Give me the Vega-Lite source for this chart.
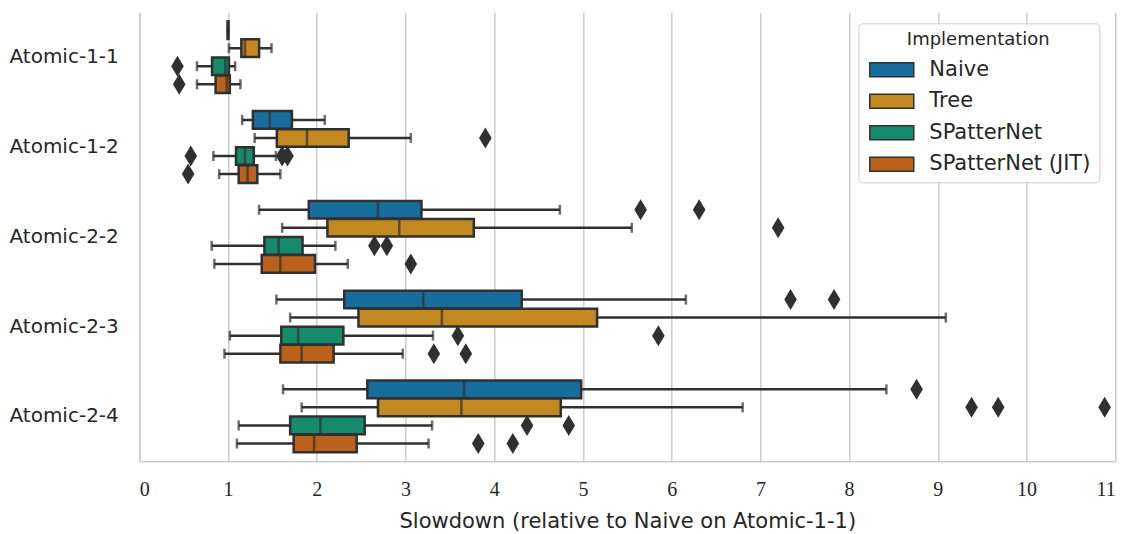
{
  "$schema": "https://vega.github.io/schema/vega-lite/v6.json",
  "width": 976,
  "height": 449,
  "autosize": {"type": "none"},
  "padding": {"left": 139.3, "top": 12.3, "right": 11.7, "bottom": 72.7},
  "background": "white",
  "config": {"view": {"stroke": null}, "font": "DejaVu Sans"},
  "datasets": {
    "boxes": [
      {"cat": "Atomic-1-1", "impl": "Naive", "lo": 1.0, "q1": 0.995, "med": 1.0, "q3": 1.005, "hi": 1.0},
      {"cat": "Atomic-1-1", "impl": "Tree", "lo": 1.01, "q1": 1.15, "med": 1.19, "q3": 1.35, "hi": 1.49},
      {"cat": "Atomic-1-1", "impl": "SPatterNet", "lo": 0.65, "q1": 0.82, "med": 0.97, "q3": 1.01, "hi": 1.08},
      {"cat": "Atomic-1-1", "impl": "SPatterNet (JIT)", "lo": 0.65, "q1": 0.86, "med": 0.985, "q3": 1.02, "hi": 1.14},
      {"cat": "Atomic-1-2", "impl": "Naive", "lo": 1.16, "q1": 1.28, "med": 1.47, "q3": 1.72, "hi": 2.09},
      {"cat": "Atomic-1-2", "impl": "Tree", "lo": 1.3, "q1": 1.55, "med": 1.89, "q3": 2.36, "hi": 3.06},
      {"cat": "Atomic-1-2", "impl": "SPatterNet", "lo": 0.835, "q1": 1.09, "med": 1.19, "q3": 1.29, "hi": 1.54},
      {"cat": "Atomic-1-2", "impl": "SPatterNet (JIT)", "lo": 0.9, "q1": 1.12, "med": 1.22, "q3": 1.33, "hi": 1.59},
      {"cat": "Atomic-2-2", "impl": "Naive", "lo": 1.35, "q1": 1.91, "med": 2.69, "q3": 3.18, "hi": 4.74},
      {"cat": "Atomic-2-2", "impl": "Tree", "lo": 1.61, "q1": 2.12, "med": 2.93, "q3": 3.77, "hi": 5.55},
      {"cat": "Atomic-2-2", "impl": "SPatterNet", "lo": 0.816, "q1": 1.41, "med": 1.57, "q3": 1.84, "hi": 2.21},
      {"cat": "Atomic-2-2", "impl": "SPatterNet (JIT)", "lo": 0.846, "q1": 1.38, "med": 1.59, "q3": 1.98, "hi": 2.35},
      {"cat": "Atomic-2-3", "impl": "Naive", "lo": 1.545, "q1": 2.31, "med": 3.2, "q3": 4.31, "hi": 6.16},
      {"cat": "Atomic-2-3", "impl": "Tree", "lo": 1.7, "q1": 2.47, "med": 3.41, "q3": 5.16, "hi": 9.09},
      {"cat": "Atomic-2-3", "impl": "SPatterNet", "lo": 1.02, "q1": 1.6, "med": 1.79, "q3": 2.3, "hi": 3.31},
      {"cat": "Atomic-2-3", "impl": "SPatterNet (JIT)", "lo": 0.96, "q1": 1.59, "med": 1.83, "q3": 2.19, "hi": 2.97},
      {"cat": "Atomic-2-4", "impl": "Naive", "lo": 1.62, "q1": 2.57, "med": 3.66, "q3": 4.98, "hi": 8.42},
      {"cat": "Atomic-2-4", "impl": "Tree", "lo": 1.83, "q1": 2.69, "med": 3.63, "q3": 4.75, "hi": 6.8},
      {"cat": "Atomic-2-4", "impl": "SPatterNet", "lo": 1.12, "q1": 1.7, "med": 2.04, "q3": 2.54, "hi": 3.3},
      {"cat": "Atomic-2-4", "impl": "SPatterNet (JIT)", "lo": 1.1, "q1": 1.74, "med": 1.97, "q3": 2.45, "hi": 3.26}
    ],
    "outliers": [
      {"cat": "Atomic-1-1", "impl": "SPatterNet", "value": 0.43},
      {"cat": "Atomic-1-1", "impl": "SPatterNet (JIT)", "value": 0.45},
      {"cat": "Atomic-1-2", "impl": "Tree", "value": 3.9},
      {"cat": "Atomic-1-2", "impl": "SPatterNet", "value": 0.58},
      {"cat": "Atomic-1-2", "impl": "SPatterNet", "value": 1.61},
      {"cat": "Atomic-1-2", "impl": "SPatterNet", "value": 1.67},
      {"cat": "Atomic-1-2", "impl": "SPatterNet (JIT)", "value": 0.55},
      {"cat": "Atomic-2-2", "impl": "Naive", "value": 5.65},
      {"cat": "Atomic-2-2", "impl": "Naive", "value": 6.31},
      {"cat": "Atomic-2-2", "impl": "Tree", "value": 7.2},
      {"cat": "Atomic-2-2", "impl": "SPatterNet", "value": 2.65},
      {"cat": "Atomic-2-2", "impl": "SPatterNet", "value": 2.79},
      {"cat": "Atomic-2-2", "impl": "SPatterNet (JIT)", "value": 3.06},
      {"cat": "Atomic-2-3", "impl": "Naive", "value": 7.34},
      {"cat": "Atomic-2-3", "impl": "Naive", "value": 7.83},
      {"cat": "Atomic-2-3", "impl": "SPatterNet", "value": 3.59},
      {"cat": "Atomic-2-3", "impl": "SPatterNet", "value": 5.85},
      {"cat": "Atomic-2-3", "impl": "SPatterNet (JIT)", "value": 3.32},
      {"cat": "Atomic-2-3", "impl": "SPatterNet (JIT)", "value": 3.68},
      {"cat": "Atomic-2-4", "impl": "Naive", "value": 8.76},
      {"cat": "Atomic-2-4", "impl": "Tree", "value": 9.38},
      {"cat": "Atomic-2-4", "impl": "Tree", "value": 9.68},
      {"cat": "Atomic-2-4", "impl": "Tree", "value": 10.88},
      {"cat": "Atomic-2-4", "impl": "SPatterNet", "value": 4.37},
      {"cat": "Atomic-2-4", "impl": "SPatterNet", "value": 4.84},
      {"cat": "Atomic-2-4", "impl": "SPatterNet (JIT)", "value": 3.82},
      {"cat": "Atomic-2-4", "impl": "SPatterNet (JIT)", "value": 4.21}
    ]
  },
  "encoding": {
    "y": {
      "field": "cat", "type": "nominal",
      "sort": ["Atomic-1-1", "Atomic-1-2", "Atomic-2-2", "Atomic-2-3", "Atomic-2-4"],
      "scale": {"paddingInner": 0.2, "paddingOuter": 0.1},
      "axis": {"title": null, "ticks": false, "grid": false, "domain": true, "domainColor": "#cccccc", "domainWidth": 1.5,
               "labelFontSize": 20, "labelColor": "#262626", "labelPadding": 21, "labelFont": "DejaVu Sans"}
    },
    "yOffset": {
      "field": "impl", "type": "nominal",
      "sort": ["Naive", "Tree", "SPatterNet", "SPatterNet (JIT)"],
      "scale": {"paddingInner": 0.02, "paddingOuter": 0}
    }
  },
  "layer": [
    {
      "data": {"name": "boxes"},
      "mark": {"type": "rule", "color": "#303030", "strokeWidth": 2.5},
      "encoding": {
        "x": {"field": "lo", "type": "quantitative", "scale": {"domain": [0, 11], "nice": false, "zero": false},
              "axis": {"title": "Slowdown (relative to Naive on Atomic-1-1)", "titleFontSize": 21, "titleFontWeight": "normal",
                       "titleColor": "#262626", "titlePadding": 11, "titleFont": "DejaVu Sans",
                       "values": [0,1,2,3,4,5,6,7,8,9,10,11], "format": "d", "labelFont": "Liberation Serif", "labelFontSize": 20,
                       "labelColor": "#262626", "labelPadding": 18, "ticks": false, "grid": true, "gridColor": "#cccccc",
                       "gridWidth": 1.5, "domain": true, "domainColor": "#cccccc", "domainWidth": 1.5}},
        "x2": {"field": "hi"}
      }
    },
    {
      "data": {"name": "boxes"},
      "mark": {"type": "bar", "stroke": "#303030", "strokeWidth": 2.5},
      "encoding": {
        "x": {"field": "q1", "type": "quantitative"},
        "x2": {"field": "q3"},
        "color": {
          "field": "impl", "type": "nominal",
          "sort": ["Naive", "Tree", "SPatterNet", "SPatterNet (JIT)"],
          "scale": {"domain": ["Naive", "Tree", "SPatterNet", "SPatterNet (JIT)"], "range": ["#176d9c", "#c38820", "#168b6b", "#ba611b"]},
          "legend": {
            "title": "Implementation", "orient": "none", "legendX": 719, "legendY": 11,
            "padding": 8, "strokeColor": "#cccccc", "fillColor": "white", "cornerRadius": 4,
            "titleFontSize": 18, "titleFontWeight": "normal", "titleColor": "#262626", "titleAnchor": "middle", "titleFont": "DejaVu Sans",
            "labelFontSize": 21, "labelColor": "#262626", "labelFont": "DejaVu Sans", "labelLimit": 400,
            "symbolType": "M-1,-1H5.28V1H-1Z", "symbolSize": 196, "symbolStrokeColor": "#303030", "symbolStrokeWidth": 1.5,
            "symbolOpacity": 1, "labelOffset": 42, "rowPadding": 9.5, "titlePadding": 10
          }
        }
      }
    },
    {
      "data": {"name": "boxes"},
      "mark": {"type": "tick", "color": "#303030", "thickness": 2.5, "size": 17.5},
      "encoding": {"x": {"field": "med", "type": "quantitative"}}
    },
    {
      "data": {"name": "boxes"},
      "mark": {"type": "tick", "color": "#303030", "thickness": 2.5, "size": 10},
      "encoding": {"x": {"field": "lo", "type": "quantitative"}}
    },
    {
      "data": {"name": "boxes"},
      "mark": {"type": "tick", "color": "#303030", "thickness": 2.5, "size": 10},
      "encoding": {"x": {"field": "hi", "type": "quantitative"}}
    },
    {
      "data": {"name": "outliers"},
      "mark": {"type": "point", "shape": "M0,-1L0.6,0L0,1L-0.6,0Z", "size": 441, "filled": true, "color": "#303030", "opacity": 1},
      "encoding": {"x": {"field": "value", "type": "quantitative"}}
    }
  ]
}
